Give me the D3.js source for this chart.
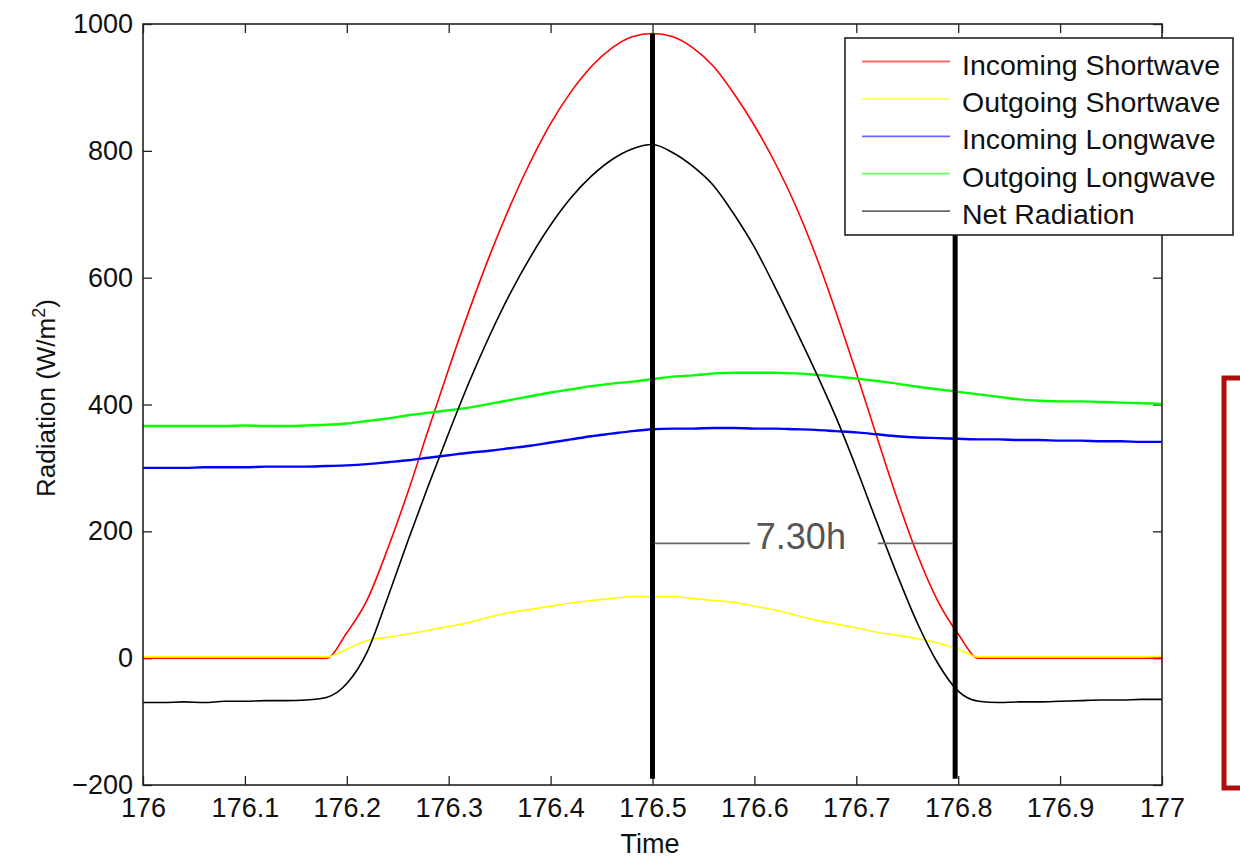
<!DOCTYPE html>
<html>
<head>
<meta charset="utf-8">
<script src="https://cdn.jsdelivr.net/npm/d3@7"></script>
<style>
  body { margin: 0; background: #fff; }
  svg text { font-family: "Liberation Sans", Arial, Helvetica, sans-serif; fill: #111; }
</style>
</head>
<body>
<figure id="chart" style="margin:0"></figure>
<script>
// day-of-year, one sample every 0.02 day (176.00 .. 177.00)
const time = d3.range(51).map(i => +(176 + i * 0.02).toFixed(2));

const incomingShortwave = [0,0,0,0,0,0,0,0,0,0, 40,92,172,262,360,456,548,634,712,782,
  843,893,933,962,980,985,980,962,933,890, 840,782,715,636,546,450,350,252,163,90,
  38,0,0,0,0,0,0,0,0,0,0];
const outgoingShortwave = [2,2,2,2,2,2,2,2,2,2, 14,28,33,38,44,50,56,65,72,77,
  82,87,91,94,97,97,97,94,91,88, 82,76,68,60,54,48,41,36,31,24,
  14,2,2,2,2,2,2,2,2,2,3];
const incomingLongwave = [300,300,300,301,301,301,302,302,302,303, 304,306,309,312,316,320,324,327,331,335,
  340,345,350,354,358,361,362,362,363,363, 362,362,361,360,358,356,353,350,348,347,
  346,345,345,344,344,343,343,342,342,341,341];
const outgoingLongwave = [366,366,366,366,366,367,366,366,367,368, 370,374,378,383,387,391,395,401,407,413,
  419,424,429,433,436,440,444,446,449,450, 450,450,449,447,444,441,437,433,428,424,
  420,416,412,408,406,405,405,404,403,402,401];
const netRadiation = [-70,-70,-69,-70,-68,-68,-67,-67,-66,-62, -40,10,95,185,272,355,435,508,574,632,
  683,726,760,786,803,810,797,775,745,700, 648,586,520,452,380,300,215,132,55,-8,
  -52,-68,-70,-69,-69,-68,-67,-66,-66,-65,-65];

const seriesNames = ["Incoming Shortwave", "Outgoing Shortwave", "Incoming Longwave", "Outgoing Longwave", "Net Radiation"];
const seriesColors = ["#ff0000", "#ffff00", "#0000ff", "#00ff00", "#000000"];
const seriesValues = [incomingShortwave, outgoingShortwave, incomingLongwave, outgoingLongwave, netRadiation];

const xTicks = [176, 176.1, 176.2, 176.3, 176.4, 176.5, 176.6, 176.7, 176.8, 176.9, 177];
const yTicks = [-200, 0, 200, 400, 600, 800, 1000];

// solar-noon and end markers, with the duration label between them
const markerTimes = [176.5, 176.797];
const markerTops = [985, 955];
const markerBottom = -190;
const spanLevel = 181;
const spanLabel = "7.30h";

const size = { width: 1240, height: 865 };
const margin = { top: 24, right: 78, bottom: 80, left: 143 };
const w = size.width - margin.left - margin.right;
const h = size.height - margin.top - margin.bottom;

const svg = d3.select("figure#chart")
  .append("svg")
  .attr("width", size.width)
  .attr("height", size.height);

const g = svg.append("g")
  .attr("transform", "translate(" + margin.left + "," + margin.top + ")");

const x = d3.scaleLinear().domain([176, 177]).range([0, w]);
const y = d3.scaleLinear().domain([-200, 1000]).range([h, 0]);

svg.append("defs").append("clipPath").attr("id", "plot-clip")
  .append("rect").attr("width", w).attr("height", h);

// Axes (matlab style: inward ticks on all four sides)
const fmtX = d => String(+d.toFixed(1));
g.append("g").attr("class", "x axis")
  .attr("transform", "translate(0," + h + ")")
  .call(d3.axisBottom(x).tickValues(xTicks).tickFormat(fmtX).tickSizeInner(-9).tickSizeOuter(0).tickPadding(13));
g.append("g").attr("class", "x2 axis")
  .call(d3.axisTop(x).tickValues(xTicks).tickFormat("").tickSizeInner(-9).tickSizeOuter(0));
g.append("g").attr("class", "y axis")
  .call(d3.axisLeft(y).tickValues(yTicks).tickFormat(d3.format("d")).tickSizeInner(-9).tickSizeOuter(0).tickPadding(10));
g.append("g").attr("class", "y2 axis")
  .attr("transform", "translate(" + w + ",0)")
  .call(d3.axisRight(y).tickValues(yTicks).tickFormat("").tickSizeInner(-9).tickSizeOuter(0));

g.selectAll(".axis .domain").remove();
g.selectAll(".axis line").attr("stroke", "#222").attr("stroke-width", 1.3);
g.selectAll(".axis text").attr("font-size", 27).style("fill", "#111");

// Series
const line = d3.line()
  .x((d, i) => x(time[i]))
  .y(d => y(d))
  .curve(d3.curveMonotoneX);

const plot = g.append("g").attr("clip-path", "url(#plot-clip)");
seriesValues.forEach((vals, k) => {
  plot.append("path")
    .datum(vals)
    .attr("fill", "none")
    .attr("stroke", seriesColors[k])
    .attr("stroke-width", (k === 2 || k === 3) ? 2.4 : 1.6)
    .attr("stroke-linejoin", "round")
    .attr("d", line);
});

// Frame
g.append("rect")
  .attr("width", w).attr("height", h)
  .attr("fill", "none").attr("stroke", "#222").attr("stroke-width", 1.6);

// Vertical markers
g.selectAll(".marker")
  .data(markerTimes)
  .enter().append("line")
  .attr("class", "marker")
  .attr("x1", d => x(d)).attr("x2", d => x(d))
  .attr("y1", (d, i) => y(markerTops[i])).attr("y2", y(markerBottom))
  .attr("stroke", "#000").attr("stroke-width", 5);

// Duration annotation
const midX = (x(markerTimes[0]) + x(markerTimes[1])) / 2;
g.append("line")
  .attr("x1", x(markerTimes[0]) + 2).attr("x2", midX - 54)
  .attr("y1", y(spanLevel)).attr("y2", y(spanLevel))
  .attr("stroke", "#666").attr("stroke-width", 1.6);
g.append("line")
  .attr("x1", midX + 74).attr("x2", x(markerTimes[1]) - 2)
  .attr("y1", y(spanLevel)).attr("y2", y(spanLevel))
  .attr("stroke", "#666").attr("stroke-width", 1.6);
g.append("text")
  .attr("x", midX - 48).attr("y", y(spanLevel) + 6)
  .attr("font-size", 36)
  .style("fill", "#555")
  .text(spanLabel);

// Axis labels
svg.append("text")
  .attr("x", 650).attr("y", 853)
  .attr("text-anchor", "middle")
  .attr("font-size", 27)
  .text("Time");

const ylab = svg.append("text")
  .attr("transform", "translate(55,398) rotate(-90)")
  .attr("text-anchor", "middle")
  .attr("font-size", 26);
ylab.append("tspan").text("Radiation (W/m");
ylab.append("tspan").attr("dy", -10).attr("font-size", 18).text("2");
ylab.append("tspan").attr("dy", 10).text(")");

// Legend
const legend = svg.append("g").attr("transform", "translate(845,38)");
legend.append("rect")
  .attr("width", 388).attr("height", 197)
  .attr("fill", "#fff").attr("stroke", "#222").attr("stroke-width", 1.6);
const rows = legend.selectAll(".row")
  .data(seriesNames)
  .enter().append("g")
  .attr("class", "row")
  .attr("transform", (d, i) => "translate(0," + (23.5 + i * 37.4) + ")");
rows.append("line")
  .attr("x1", 17).attr("x2", 105)
  .attr("stroke", (d, i) => seriesColors[i])
  .attr("stroke-opacity", 0.6)
  .attr("stroke-width", 1.8);
rows.append("text")
  .attr("x", 117).attr("y", 13)
  .attr("font-size", 28.5)
  .text(d => d);

// Red highlight frame at the right edge
svg.append("rect")
  .attr("x", 1224).attr("y", 378)
  .attr("width", 60).attr("height", 410)
  .attr("fill", "none").attr("stroke", "#b00d0d").attr("stroke-width", 5);
</script>
</body>
</html>
